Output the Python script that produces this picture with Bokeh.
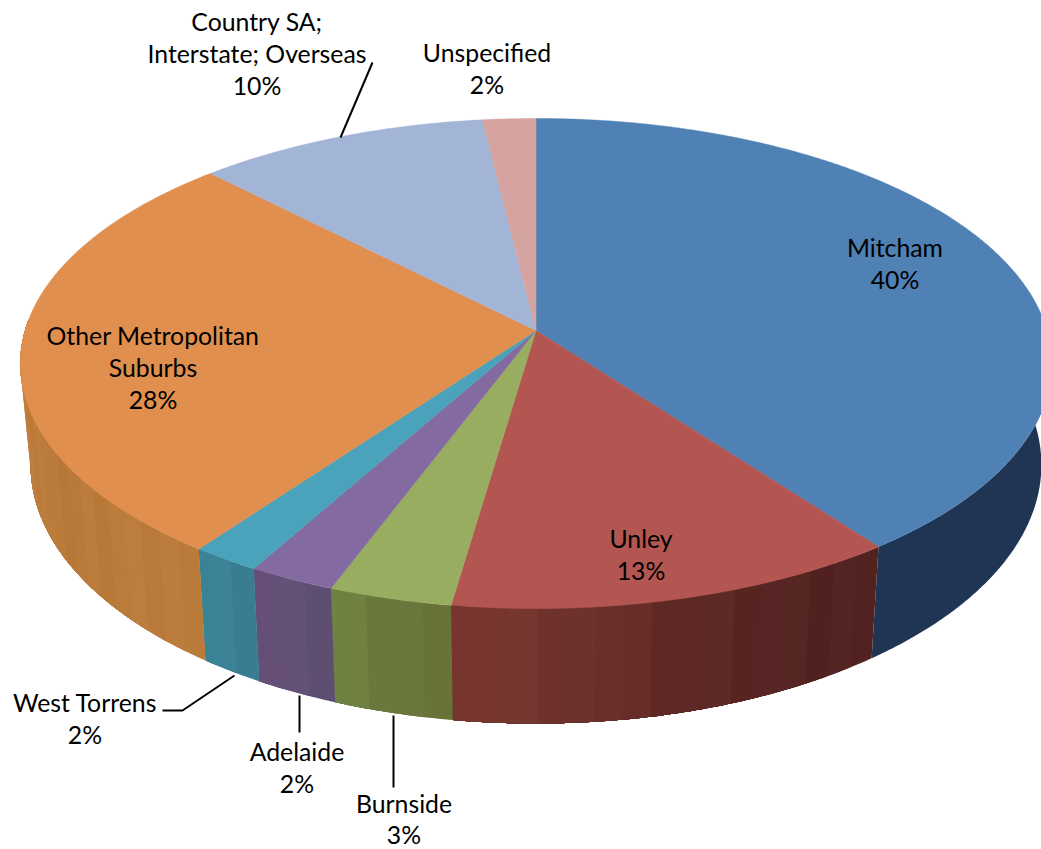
import math
from bokeh.plotting import figure
from bokeh.models import Range1d, ColumnDataSource
from bokeh.core.properties import value
from bokeh.embed import file_html
from bokeh.resources import INLINE

categories = ["Mitcham", "Unley", "Burnside", "Adelaide", "West Torrens",
              "Other Metropolitan Suburbs", "Country SA; Interstate; Overseas", "Unspecified"]
shares = [39.8, 12.5, 3.4, 2.4, 1.9, 27.7, 10.4, 1.9]
tick_labels = ["40%", "13%", "3%", "2%", "2%", "28%", "10%", "2%"]

top_colors = ["#5081B4", "#B35651", "#98AD60", "#836AA0", "#4AA3BA", "#E08F4E", "#A3B5D6", "#D6A4A0"]
# wall colour at the start and the end of each slice, clockwise
wall_start = ["#203553", "#522220", "#677338", "#5E4E72", "#397D92", "#B97A3A", "#6A7A96", "#8C6A66"]
wall_end = ["#203553", "#7A3830", "#6E8040", "#6A5078", "#3A8498", "#C8823F", "#6A7A96", "#8C6A66"]
ripple = [0, 2, -1, 3, 1, -2, 2, -1, -3, 1]

label_lines = [["Mitcham", "40%"], ["Unley", "13%"], ["Burnside", "3%"], ["Adelaide", "2%"],
               ["West Torrens", "2%"], ["Other Metropolitan", "Suburbs", "28%"],
               ["Country SA;", "Interstate; Overseas", "10%"], ["Unspecified", "2%"]]
label_x = [894.5, 640.5, 403.5, 296.5, 84.5, 152.5, 256.5, 486.5]
label_y = [247, 538, 802.5, 751, 702, 335, 21, 52]
leader_xs = [[393, 393], [299, 299], [162, 182, 234], [340, 372]]
leader_ys = [[715, 787], [695, 732], [710, 710, 675], [137, 62]]

CX, CY, A, B, K, D, SHRINK = 535.5, 330.0, 511.0, 240.6, 0.1347, 99.5, 0.98


def top_pt(t):
    u, v = math.sin(t), math.cos(t)
    f = 1 + K * v
    return CX + A * u / f, CY - B * v / f


def low_pt(t):
    u, v = math.sin(t), math.cos(t)
    f = 1 + K * v
    return CX + SHRINK * A * u / f, CY + (D - B * v) / f


def mix(c1, c2, r, d):
    out = []
    for i in (1, 3, 5):
        a, b = int(c1[i:i + 2], 16), int(c2[i:i + 2], 16)
        out.append(max(0, min(255, round(a + (b - a) * r + d))))
    return "#%02x%02x%02x" % tuple(out)


wx, wy, wc = [], [], []
tx, ty, tc = [], [], []
total = sum(shares)
start = 0.0
STEP = math.radians(0.4)
BAND = 7
for i, s in enumerate(shares):
    a0 = start / total * 2 * math.pi
    a1 = (start + s) / total * 2 * math.pi
    start += s
    n = max(2, int((a1 - a0) / STEP))
    ang = [a0 + (a1 - a0) * j / n for j in range(n + 1)]
    pts = [top_pt(t) for t in ang]
    tx.append([CX] + [q[0] for q in pts])
    ty.append([CY] + [q[1] for q in pts])
    tc.append(top_colors[i])
    flat = wall_start[i] == wall_end[i]
    band = n if flat else BAND
    for j in range(0, n, band):
        # each band runs on to the end of the slice, so the next one overlays it without a seam
        sub = ang[j:]
        front = [t for t in sub if math.cos(t) < 0.05]
        if len(front) < 2:
            continue
        up = [top_pt(t) for t in front]
        lo = [low_pt(t) for t in reversed(front)]
        wx.append([q[0] for q in up + lo])
        wy.append([q[1] for q in up + lo])
        d = 0 if flat else ripple[(j // band) % len(ripple)]
        r = max(0.0, ((j + band / 2) / n - 0.2) / 0.8)
        wc.append(mix(wall_start[i], wall_end[i], r, d))

p = figure(width=1041, height=849, output_backend="svg", toolbar_location=None,
           x_range=Range1d(0, 1041), y_range=Range1d(849, 0),
           x_axis_type=None, y_axis_type=None, min_border=0,
           background_fill_color="white", border_fill_color="white", outline_line_color=None)
p.grid.visible = False

p.patches("x", "y", source=ColumnDataSource(dict(x=wx, y=wy, c=wc)), fill_color="c", line_color=None)
p.patches("x", "y", source=ColumnDataSource(dict(x=tx, y=ty, c=tc)), fill_color="c", line_color="c", line_width=0.5)
p.multi_line(leader_xs, leader_ys, line_color="black", line_width=2)

LEADING = 31.8
xs, ys, ts = [], [], []
for lines, x, y in zip(label_lines, label_x, label_y):
    for n, line in enumerate(lines):
        xs.append(x)
        ys.append(y + n * LEADING)
        ts.append(line)
p.text(xs, ys, text=ts, text_font=value("Lato"), text_font_size="24.8px", text_color="black",
       text_align="center", text_baseline="middle")

open("out.html", "w").write(file_html(p, INLINE))
